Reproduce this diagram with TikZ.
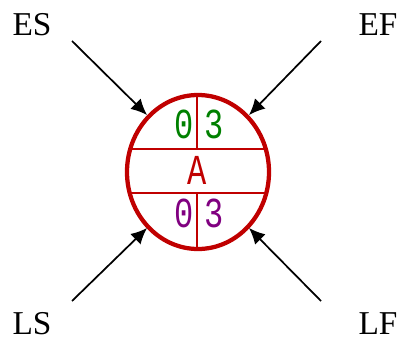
\documentclass[tikz,border=0pt]{standalone}
\usepackage{fontspec}
\setmainfont{Liberation Serif}
\newfontfamily\digitfont{Liberation Mono}
\usetikzlibrary{arrows.meta, shapes.geometric}
\definecolor{actred}{RGB}{192,0,0}
\definecolor{actgreen}{RGB}{0,128,0}
\definecolor{actpurple}{RGB}{128,0,128}

\begin{document}
\begin{tikzpicture}[x=0.75pt, y=-0.75pt,
  corner/.style={font=\fontsize{25}{25}\selectfont, inner sep=0pt},
  digit/.style={font=\digitfont\fontsize{32}{32}\selectfont, inner sep=0pt, xscale=0.75},
  pointer/.style={-{Latex[length=12pt,width=11pt]}, line width=1.3pt, black}]
  \useasboundingbox (0,0) rectangle (400,343);

  % Activity ellipse
  \node[ellipse, draw=actred, line width=3.2pt, minimum width=142*0.75pt,
        minimum height=154*0.75pt, inner sep=0pt] (act) at (198,172) {};
  \begin{scope}
    \clip (198,172) ellipse [x radius=53.25pt, y radius=57.75pt];
    \draw[actred, line width=2.2pt] (100,149) -- (300,149);
    \draw[actred, line width=2.2pt] (100,193) -- (300,193);
    \draw[actred, line width=2.2pt] (197,90) -- (197,149);
    \draw[actred, line width=2.2pt] (197,193) -- (197,255);
  \end{scope}

  % Cell values
  \node[digit, actgreen] (es) at (184,124) {0};
  \node[digit, actgreen] (ef) at (214,124) {3};
  \node[digit, actred] (name) at (197,170) {A};
  \node[digit, actpurple] (ls) at (184,213) {0};
  \node[digit, actpurple] (lf) at (214,213) {3};

  % Corner labels
  \node[corner] (ESlbl) at (32,25) {ES};
  \node[corner] (EFlbl) at (378,25) {EF};
  \node[corner] (LSlbl) at (32,324) {LS};
  \node[corner] (LFlbl) at (378,324) {LF};

  \coordinate (esTail) at (72,41);
  \coordinate (efTail) at (321,41);
  \coordinate (lsTail) at (72,301);
  \coordinate (lfTail) at (321,301);
  \coordinate (esTip) at (147,115);
  \coordinate (efTip) at (249,115);
  \coordinate (lsTip) at (147,228);
  \coordinate (lfTip) at (249,228);

  % Pointers
  \draw[pointer] (esTail) -- (esTip);
  \draw[pointer] (efTail) -- (efTip);
  \draw[pointer] (lsTail) -- (lsTip);
  \draw[pointer] (lfTail) -- (lfTip);
\end{tikzpicture}
\end{document}
